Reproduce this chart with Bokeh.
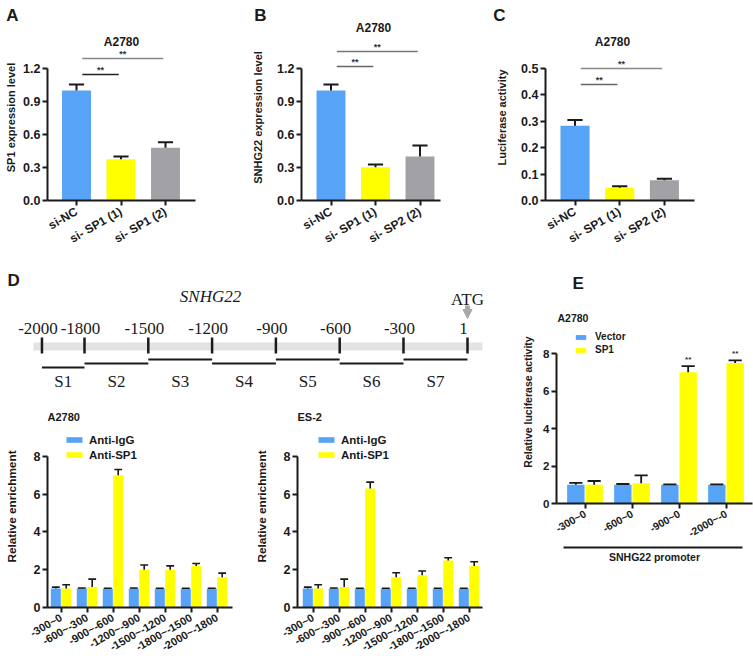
import math
from bokeh.plotting import figure
from bokeh.layouts import row, column
from bokeh.models import (Range1d, FixedTicker, LinearAxis, Label, Legend, LegendItem,
                          NumeralTickFormatter, Arrow, NormalHead)
from bokeh.embed import file_html
from bokeh.resources import INLINE
from bokeh.core.properties import value

SANS = "Liberation Sans"
SERIF = "Liberation Serif"
BLUE = "#56A3F7"
YELLOW = "#FFFF00"
GREY = "#A2A2A6"
INK = "#1A1A1A"

# ---------------- data ----------------
cell_a2780 = "A2780"
cell_es2 = "ES-2"

a_cats = ["si-NC", "si- SP1 (1)", "si- SP1 (2)"]
a_vals = [1.00, 0.375, 0.48]
a_errs = [0.055, 0.025, 0.05]
a_yticks = [0.0, 0.3, 0.6, 0.9, 1.2]
a_ylabel = "SP1 expression level"

b_cats = ["si-NC", "si- SP1 (1)", "si- SP2 (2)"]
b_vals = [1.00, 0.303, 0.40]
b_errs = [0.055, 0.024, 0.10]
b_yticks = [0.0, 0.3, 0.6, 0.9, 1.2]
b_ylabel = "SNHG22 expression level"

c_cats = ["si-NC", "si- SP1 (1)", "si- SP2 (2)"]
c_vals = [0.283, 0.048, 0.077]
c_errs = [0.022, 0.006, 0.005]
c_yticks = [0.0, 0.1, 0.2, 0.3, 0.4, 0.5]
c_ylabel = "Luciferase activity"

comparisons = [(0, 1), (0, 2)]
sig_mark = "**"

gene_name = "SNHG22"
promoter_pos = [-2000, -1800, -1500, -1200, -900, -600, -300, 1]
promoter_pos_labels = ["-2000", "-1800", "-1500", "-1200", "-900", "-600", "-300", "1"]
segment_names = ["S1", "S2", "S3", "S4", "S5", "S6", "S7"]
start_codon = "ATG"

chip_regions = ["-300~0", "-600~-300", "-900~-600", "-1200~-900",
                "-1500~-1200", "-1800~-1500", "-2000~-1800"]
chip_series = ["Anti-IgG", "Anti-SP1"]
chip_ylabel = "Relative enrichment"
chip_yticks = [0, 2, 4, 6, 8]
a2780_igg = [1.0, 1.0, 1.0, 1.0, 1.0, 1.0, 1.0]
a2780_igg_err = [0.08, 0.03, 0.02, 0.03, 0.02, 0.02, 0.02]
a2780_sp1 = [1.0, 1.08, 7.0, 2.0, 2.0, 2.19, 1.6]
a2780_sp1_err = [0.2, 0.42, 0.3, 0.25, 0.2, 0.14, 0.22]
es2_igg = [1.0, 1.0, 1.0, 1.0, 1.0, 1.0, 1.0]
es2_igg_err = [0.08, 0.03, 0.02, 0.02, 0.02, 0.02, 0.02]
es2_sp1 = [1.0, 1.08, 6.3, 1.6, 1.7, 2.49, 2.19]
es2_sp1_err = [0.2, 0.42, 0.33, 0.24, 0.23, 0.14, 0.23]

e_regions = ["-300~0", "-600~0", "-900~0", "-2000~-0"]
e_series = ["Vector", "SP1"]
e_vector = [1.0, 1.0, 1.0, 1.0]
e_vector_err = [0.1, 0.04, 0.02, 0.02]
e_sp1 = [1.0, 1.08, 7.0, 7.5]
e_sp1_err = [0.2, 0.42, 0.33, 0.13]
e_sig = ["", "", "**", "**"]
e_ylabel = "Relative luciferase activity"
e_xlabel = "SNHG22 promoter"
e_yticks = [0, 2, 4, 6, 8]

panel_letters = ["A", "B", "C", "D", "E"]


# ---------------- helpers ----------------
def make_fig(fig_box, frame_box, xr, yr, axes=True):
    fx0, fy0, fx1, fy1 = fig_box
    gx0, gy0, gx1, gy1 = frame_box
    kw = dict(width=fx1 - fx0, height=fy1 - fy0,
              x_range=Range1d(*xr), y_range=Range1d(*yr),
              output_backend="svg", toolbar_location=None,
              min_border_left=gx0 - fx0, min_border_right=fx1 - gx1,
              min_border_top=gy0 - fy0, min_border_bottom=fy1 - gy1)
    if not axes:
        kw.update(x_axis_type=None, y_axis_type=None)
    p = figure(**kw)
    p.outline_line_color = None
    p.grid.visible = False
    p.border_fill_color = "white"

    def tx(px):
        return xr[0] + (px - gx0) * (xr[1] - xr[0]) / (gx1 - gx0)

    def ty(py):
        return yr[0] + (gy1 - py) * (yr[1] - yr[0]) / (gy1 - gy0)
    return p, tx, ty


def strip(box):
    # a plain drawing area whose data units are page pixels
    x0, y0, x1, y1 = box
    p, _, _ = make_fig(box, box, (x0, x1), (y1, y0), axes=False)
    p.min_border = 0
    return p


def style_axes(p, ylabel, yticks, labels, tick_size, ylab_size, fmt=None,
               xtick_size=None, ylab_standoff=4, x_standoff=5):
    ya = p.yaxis[0]
    xa = p.xaxis[0]
    for ax in (xa, ya):
        ax.axis_line_width = 2
        ax.axis_line_color = INK
        ax.major_tick_line_width = 2
        ax.major_tick_line_color = INK
        ax.major_tick_in = 0
        ax.major_tick_out = 5
        ax.minor_tick_line_color = None
        ax.major_label_text_font = SANS
        ax.major_label_text_font_style = "bold"
        ax.major_label_text_color = INK
        ax.major_label_standoff = 2
    xa.major_label_standoff = x_standoff
    ya.major_label_text_font_size = tick_size
    xa.major_label_text_font_size = xtick_size or tick_size
    ya.ticker = FixedTicker(ticks=yticks)
    ya.bounds = (yticks[0], yticks[-1])
    if fmt:
        ya.formatter = NumeralTickFormatter(format=fmt)
    ya.axis_label = ylabel
    ya.axis_label_text_font = SANS
    ya.axis_label_text_font_style = "bold"
    ya.axis_label_text_font_size = ylab_size
    ya.axis_label_text_color = INK
    ya.axis_label_standoff = ylab_standoff
    xa.ticker = FixedTicker(ticks=list(range(len(labels))))
    xa.major_label_overrides = {i: lab for i, lab in enumerate(labels)}
    xa.major_label_orientation = math.pi / 6


def err_bars(p, xs, vals, errs, cap, width=2):
    tops = [v + e for v, e in zip(vals, errs)]
    p.segment(x0=xs, y0=vals, x1=xs, y1=tops, line_color=INK, line_width=width)
    p.segment(x0=[x - cap for x in xs], y0=tops, x1=[x + cap for x in xs], y1=tops,
              line_color=INK, line_width=width)


def txt(p, x, y, s, size, style="bold", align="center", baseline="middle",
        font=SANS, color=INK):
    p.add_layout(Label(x=x, y=y, text=s, text_font=font, text_font_size=size,
                       text_font_style=style, text_align=align,
                       text_baseline=baseline, text_color=color))


bar_colors = [BLUE, YELLOW, GREY]

TOP_BOTTOM = 256


def top_panel(fig_box, frame_box, c0, spacing, y_px0, y_ppu, cats, vals, errs, yticks,
              ylabel, title_px, br_px, fmt, br_colors, ylab_standoff):
    gx0, gy0, gx1, gy1 = frame_box
    xr = ((gx0 - c0) / spacing, (gx1 - c0) / spacing)
    yr = (0, (y_px0 - gy0) / y_ppu)
    p, tx, ty = make_fig(fig_box, frame_box, xr, yr)
    xs = list(range(len(cats)))
    p.vbar(x=xs, top=vals, width=0.65, fill_color=bar_colors, line_color=None)
    err_bars(p, xs, vals, errs, 0.17)
    style_axes(p, ylabel, yticks, cats, "12.5px", "11px", fmt=fmt, xtick_size="12px",
               ylab_standoff=ylab_standoff, x_standoff=5)
    for (i, j), ypx, col in zip(comparisons, br_px, br_colors):
        x0 = i + 0.13
        x1 = j - 0.05
        yb = ty(ypx)
        p.segment(x0=[x0], y0=[yb], x1=[x1], y1=[yb], line_color=col, line_width=1.6)
        txt(p, (x0 + x1) / 2, ty(ypx - 5), sig_mark, "9px", color="#333333")
    if title_px is not None:
        txt(p, tx(title_px[0]), ty(title_px[1]), cell_a2780, "12px")
    return p


# ---------------- top row ----------------
pTop = strip((0, 0, 753, 34))
txt(pTop, 12, 15, panel_letters[0], "17px")
txt(pTop, 260, 15, panel_letters[1], "17px")
txt(pTop, 499, 15, panel_letters[2], "17px")
txt(pTop, 373, 27, cell_a2780, "12px")

pA = top_panel((0, 34, 245, TOP_BOTTOM), (47, 34, 195, 200), 76, 44.5, 200, 110,
               a_cats, a_vals, a_errs, a_yticks, a_ylabel, (121, 41),
               (74, 58), "0.0", ["#222222", "#888888"], 3)
pB = top_panel((245, 34, 490, TOP_BOTTOM), (301, 34, 440, 200), 330.5, 44.5, 200, 110,
               b_cats, b_vals, b_errs, b_yticks, b_ylabel, None,
               (66, 51), "0.0", ["#666666", "#777777"], 10)
pC = top_panel((490, 34, 753, TOP_BOTTOM), (545, 34, 694, 200), 574.5, 44.7, 200, 264,
               c_cats, c_vals, c_errs, c_yticks, c_ylabel, (612, 41),
               (84, 68), "0.0", ["#666666", "#888888"], 10)

# ---------------- D diagram ----------------
PX_PER_BP = 0.21266


def bp(px):
    return -1800 + (px - 84) / PX_PER_BP


pDd, _, _ = make_fig((0, TOP_BOTTOM, 500, 395), (0, TOP_BOTTOM, 500, 395),
                     (bp(0), bp(500)), (395, TOP_BOTTOM), axes=False)
pDd.min_border = 0
pDd.quad(left=[promoter_pos[0] - 40], right=[promoter_pos[-1] + 70], top=[342], bottom=[350],
         fill_color="#E3E3E3", line_color=None)
pDd.segment(x0=promoter_pos, y0=[337] * len(promoter_pos), x1=promoter_pos,
            y1=[353] * len(promoter_pos), line_color=INK, line_width=2.5)
pDd.text(x=promoter_pos, y=[328] * len(promoter_pos), text=promoter_pos_labels,
         text_font=value(SERIF), text_font_size="17px", text_align="center",
         text_baseline="middle", text_color=INK, x_offset=-4)
seg_levels = [367, 363, 359, 363, 359, 363, 359]
pDd.segment(x0=promoter_pos[:-1], y0=seg_levels, x1=promoter_pos[1:], y1=seg_levels,
            line_color=INK, line_width=2)
mids = [(a + b) / 2 for a, b in zip(promoter_pos[:-1], promoter_pos[1:])]
pDd.text(x=mids, y=[381] * len(mids), text=segment_names, text_font=value(SERIF),
         text_font_size="17px", text_align="center", text_baseline="middle", text_color=INK)
txt(pDd, bp(210), 296, gene_name, "17px", style="italic", font=SERIF)
txt(pDd, promoter_pos[-1], 299, start_codon, "17px", style="normal", font=SERIF)
pDd.add_layout(Arrow(end=NormalHead(size=9, fill_color="#A8A8A8", line_color="#A8A8A8"),
                     x_start=promoter_pos[-1], y_start=305, x_end=promoter_pos[-1], y_end=318,
                     line_color="#A8A8A8", line_width=5))
txt(pDd, bp(7), 280, panel_letters[3], "17px", align="left")


# ---------------- D charts ----------------
def chip_panel(fig_box, frame_box, c0, title, igg, igg_err, sp1, sp1_err, leg_x):
    gx0, gy0, gx1, gy1 = frame_box
    spacing = 26
    xr = ((gx0 - c0) / spacing, (gx1 - c0) / spacing)
    yr = (0, (gy1 - gy0) / 19)
    p, tx, ty = make_fig(fig_box, frame_box, xr, yr)
    xs = list(range(len(chip_regions)))
    xi = [x - 0.2 for x in xs]
    xsp = [x + 0.2 for x in xs]
    r1 = p.vbar(x=xi, top=igg, width=0.385, fill_color=BLUE, line_color=None)
    r2 = p.vbar(x=xsp, top=sp1, width=0.385, fill_color=YELLOW, line_color=None)
    err_bars(p, xi, igg, igg_err, 0.15, 1.6)
    err_bars(p, xsp, sp1, sp1_err, 0.15, 1.6)
    style_axes(p, chip_ylabel, chip_yticks, chip_regions, "12.5px", "11.8px",
               xtick_size="11px", ylab_standoff=12, x_standoff=4)
    leg = Legend(items=[LegendItem(label=chip_series[0], renderers=[r1]),
                        LegendItem(label=chip_series[1], renderers=[r2])],
                 location=(leg_x, 146))
    leg.glyph_width = 20
    leg.glyph_height = 7
    leg.label_height = 13
    leg.label_standoff = 5
    leg.spacing = 2
    leg.padding = 0
    leg.margin = 0
    leg.border_line_color = None
    leg.background_fill_alpha = 0
    leg.label_text_font = SANS
    leg.label_text_font_style = "bold"
    leg.label_text_font_size = "11.5px"
    leg.label_text_color = INK
    p.add_layout(leg)
    txt(p, tx(gx0), ty(417), title, "11px", align="left")
    return p


pD1 = chip_panel((0, 395, 250, 661), (47, 405, 232, 608), 60.5, cell_a2780,
                 a2780_igg, a2780_igg_err, a2780_sp1, a2780_sp1_err, 17)
pD2 = chip_panel((250, 395, 500, 661), (297, 405, 482, 608), 312.5, cell_es2,
                 es2_igg, es2_igg_err, es2_sp1, es2_sp1_err, 19)

# ---------------- E ----------------
pEs = strip((500, TOP_BOTTOM, 753, 300))
txt(pEs, 528, 283, panel_letters[4], "17px")

fbE = (556, 300, 752, 503)
xrE = ((fbE[0] - 584.5) / 47, (fbE[2] - 584.5) / 47)
yrE = (0, (fbE[3] - fbE[1]) / 18.75)
pE, txE, tyE = make_fig((500, 300, 753, 661), fbE, xrE, yrE)
xsE = list(range(len(e_regions)))
xv = [x - 0.195 for x in xsE]
xs1 = [x + 0.195 for x in xsE]
rv = pE.vbar(x=xv, top=e_vector, width=0.37, fill_color=BLUE, line_color=None)
rs = pE.vbar(x=xs1, top=e_sp1, width=0.37, fill_color=YELLOW, line_color=None)
err_bars(pE, xv, e_vector, e_vector_err, 0.14, 1.8)
err_bars(pE, xs1, e_sp1, e_sp1_err, 0.14, 1.8)
style_axes(pE, e_ylabel, e_yticks, e_regions, "11.5px", "10.5px", xtick_size="10.5px",
           ylab_standoff=6, x_standoff=4)
for x, v, e, s in zip(xs1, e_sp1, e_sp1_err, e_sig):
    if s:
        txt(pE, x, v + e + 0.35, s, "8px", color="#333333")
ax2 = LinearAxis(ticker=FixedTicker(ticks=[]), bounds=(txE(563), txE(742)))
ax2.axis_line_width = 2
ax2.axis_line_color = INK
ax2.major_tick_line_color = None
ax2.minor_tick_line_color = None
ax2.major_label_text_font_size = "0px"
ax2.axis_label = e_xlabel
ax2.axis_label_text_font = SANS
ax2.axis_label_text_font_style = "bold"
ax2.axis_label_text_font_size = "10.5px"
ax2.axis_label_text_color = INK
ax2.axis_label_standoff = 3
pE.add_layout(ax2, "below")
legE = Legend(items=[LegendItem(label=e_series[0], renderers=[rv]),
                     LegendItem(label=e_series[1], renderers=[rs])],
              location=(18, 148))
legE.glyph_width = 13
legE.glyph_height = 6
legE.label_height = 10
legE.label_standoff = 8
legE.spacing = 2
legE.padding = 0
legE.margin = 0
legE.border_line_color = None
legE.background_fill_alpha = 0
legE.label_text_font = SANS
legE.label_text_font_style = "bold"
legE.label_text_font_size = "10px"
legE.label_text_color = INK
pE.add_layout(legE)
txt(pE, txE(557), tyE(317), cell_a2780, "10.5px", align="left")

layout = column(
    pTop,
    row(pA, pB, pC),
    row(column(pDd, row(pD1, pD2)), column(pEs, pE)),
)

open("out.html", "w").write(file_html(layout, INLINE))
